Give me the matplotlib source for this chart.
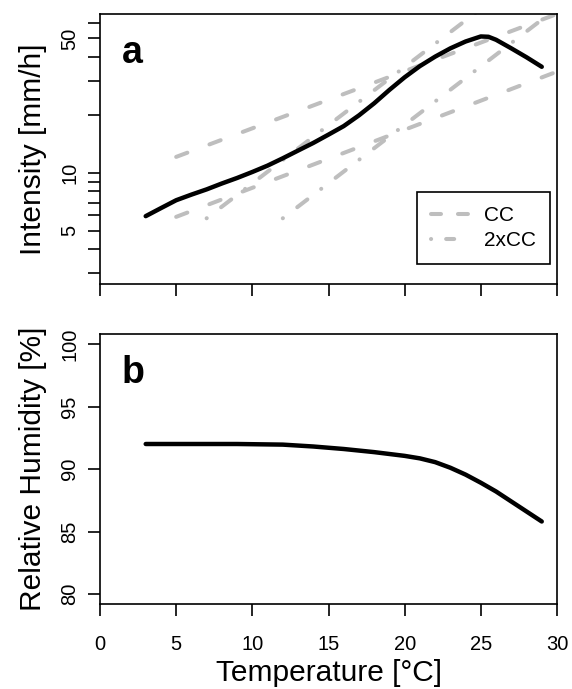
import matplotlib
matplotlib.use('Agg')
import matplotlib.pyplot as plt
from matplotlib.lines import Line2D
from matplotlib.ticker import NullLocator

plt.rcParams['font.family'] = ['Liberation Sans', 'DejaVu Sans']
plt.rcParams['lines.scale_dashes'] = False

# panel a: extreme intensity vs temperature
temp_a = [3, 4, 5, 6, 7, 8, 9, 10, 11, 12, 13, 14, 15, 16, 17, 18, 19, 20,
          21, 22, 23, 24, 25, 25.5, 26, 27, 28, 29]
intensity = [5.95, 6.55, 7.2, 7.7, 8.2, 8.8, 9.4, 10.1, 10.9, 11.9, 13.05, 14.3,
             15.8, 17.5, 19.9, 23.0, 27.0, 31.4, 35.9, 40.2, 44.4, 48.2, 51.2,
             51.0, 49.2, 44.4, 39.9, 35.6]

# reference scaling lines (end points)
cc_temp = [5, 30]
cc_upper = [12.1, 67]
cc_lower = [5.9, 33.6]
cc2_temp_a = [7, 26]
cc2_a = [5.8, 82]
cc2_temp_b = [12, 30]
cc2_b = [5.8, 72]

# panel b: relative humidity
temp_b = [3, 6, 9, 12, 14, 16, 18, 20, 21, 22, 23, 24, 25, 26, 27, 28, 29]
rel_hum = [92.0, 92.0, 92.0, 91.95, 91.8, 91.6, 91.35, 91.05, 90.85, 90.55,
           90.1, 89.55, 88.9, 88.2, 87.4, 86.6, 85.8]

yticks_a = [3, 4, 5, 6, 7, 8, 9, 10, 20, 30, 40, 50, 60]
ylabels_a = ['', '', '5', '', '', '', '', '10', '', '', '', '50', '']
xticks = [0, 5, 10, 15, 20, 25, 30]
yticks_b = [80, 85, 90, 95, 100]

gray = '#BEBEBE'
dash_cc = (8.6, 17)
dash_2cc = (0.1, 13, 9.2, 12.5)

fig = plt.figure(figsize=(5.72, 6.89), dpi=100)
ax1 = fig.add_axes([100 / 572, 1 - 284 / 689, 457 / 572, 270 / 689])
ax2 = fig.add_axes([100 / 572, 1 - 604 / 689, 457 / 572, 270 / 689])

ax1.plot(cc_temp, cc_upper, color=gray, lw=2.9, dashes=dash_cc,
         dash_capstyle='round')
ax1.plot(cc_temp, cc_lower, color=gray, lw=2.9, dashes=dash_cc,
         dash_capstyle='round')
ax1.plot(cc2_temp_a, cc2_a, color=gray, lw=2.9, dashes=dash_2cc,
         dash_capstyle='round')
ax1.plot(cc2_temp_b, cc2_b, color=gray, lw=2.9, dashes=dash_2cc,
         dash_capstyle='round')
ax1.plot(temp_a, intensity, color='black', lw=3.2,
         solid_capstyle='round', solid_joinstyle='round')

ax1.set_yscale('log')
ax1.set_xlim(0, 30)
ax1.set_ylim(2.64, 67)
ax1.set_yticks(yticks_a, labels=ylabels_a)
ax1.yaxis.set_minor_locator(NullLocator())
ax1.set_xticks(xticks)
ax1.tick_params(axis='x', labelbottom=False)
ax1.set_ylabel('Intensity [mm/h]', fontsize=21.5, labelpad=9.5)

# legend samples
handles = [
    Line2D([], [], color=gray, lw=2.9, dashes=(7.2, 12.2), dash_capstyle='round'),
    Line2D([], [], color=gray, lw=2.9, dashes=(0.1, 10.8, 5.8, 10.8),
           dash_capstyle='round'),
]
leg = ax1.legend(handles, ['CC', '2xCC'], loc='lower right',
                 bbox_to_anchor=(0.9847, 0.074), borderaxespad=0, fontsize=15,
                 fancybox=False, edgecolor='black', framealpha=1,
                 handlelength=1.8, handletextpad=0.75, borderpad=0.67,
                 labelspacing=0.27)
leg.get_frame().set_linewidth(1.2)

ax2.plot(temp_b, rel_hum, color='black', lw=3.2,
         solid_capstyle='round', solid_joinstyle='round')
ax2.set_xlim(0, 30)
ax2.set_ylim(79.2, 100.8)
ax2.set_xticks(xticks)
ax2.set_yticks(yticks_b)
ax2.set_ylabel('Relative Humidity [%]', fontsize=21.5, labelpad=9.5)
ax2.set_xlabel('Temperature [°C]', fontsize=21.5, labelpad=3.5)

for ax, letter in [(ax1, 'a'), (ax2, 'b')]:
    ax.tick_params(direction='out', length=8.6, width=1.2, labelsize=14.5)
    ax.tick_params(axis='x', pad=13.5)
    ax.tick_params(axis='y', pad=6.5)
    plt.setp(ax.get_yticklabels(), rotation=90, va='center')
    for sp in ax.spines.values():
        sp.set_linewidth(1.2)
    ax.text(0.0475, 0.8185, letter, transform=ax.transAxes, fontsize=27,
            fontweight='bold', ha='left', va='baseline')

fig.savefig('out.png', dpi=100)
